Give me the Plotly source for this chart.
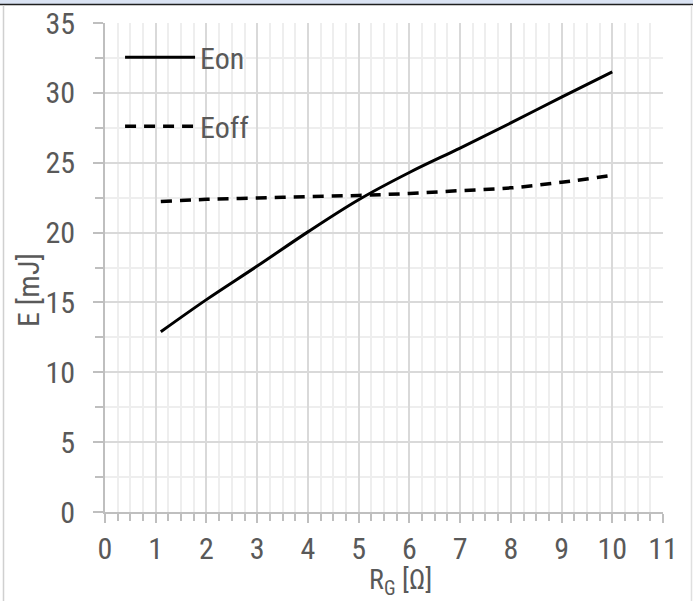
import plotly.graph_objects as go

# Switching energy vs. gate resistance
rg_on = [1.1, 2, 3, 4, 5, 6, 7, 8, 9, 10]
e_on = [12.9, 15.2, 17.6, 20.05, 22.35, 24.3, 26.05, 27.85, 29.7, 31.5]
rg_off = [1.1, 2, 3, 4, 5, 6, 7, 8, 9, 10]
e_off = [22.22, 22.38, 22.47, 22.57, 22.66, 22.8, 23.0, 23.2, 23.6, 24.1]

x_ticks = list(range(0, 12))
y_ticks = list(range(0, 40, 5))

W, H = 693, 601
ML, MR, MT, MB = 105, 30, 23, 89
FONT = "Liberation Sans Narrow, Arial Narrow, Roboto Condensed, sans-serif"
TXT = "#595959"
AXIS = "#bfbfbf"
GRID = "#d9d9d9"
MINOR = "#eeeeee"

fig = go.Figure()
fig.add_trace(go.Scatter(x=rg_on, y=e_on, name="Eon", mode="lines",
                         line=dict(color="black", width=3, shape="spline", smoothing=1.0),
                         legendgroup="on"))
fig.add_trace(go.Scatter(x=rg_off, y=e_off, name="Eoff", mode="lines",
                         line=dict(color="black", width=3.5, dash="11px,8px",
                                   shape="spline", smoothing=1.0),
                         legendgroup="off"))

base_x = dict(range=[0, 11], tickvals=x_ticks, showgrid=True, gridcolor=GRID, gridwidth=1.5,
              zeroline=False, showline=True, linecolor=AXIS, linewidth=2,
              ticks="outside", ticklen=9, tickwidth=2, tickcolor=AXIS,
              minor=dict(dtick=0.25, showgrid=True, gridcolor=MINOR, gridwidth=1.5,
                         ticks="outside", ticklen=7, tickwidth=2, tickcolor=AXIS),
              tickfont=dict(family=FONT, size=30, color=TXT),
              automargin=False, fixedrange=True)
base_y = dict(range=[0, 35], tickvals=y_ticks, showgrid=True, gridcolor=GRID, gridwidth=1.5,
              zeroline=False, showline=True, linecolor=AXIS, linewidth=2,
              ticks="outside", ticklen=10, tickwidth=2, tickcolor=AXIS,
              minor=dict(dtick=2.5, showgrid=True, gridcolor=MINOR, gridwidth=1.5,
                         ticks="outside", ticklen=8, tickwidth=2, tickcolor=AXIS),
              tickfont=dict(family=FONT, size=30, color=TXT), ticklabelstandoff=12,
              automargin=False, fixedrange=True)

fig.update_layout(
    width=W, height=H,
    margin=dict(l=ML, r=MR, t=MT, b=MB, autoexpand=False),
    paper_bgcolor="white", plot_bgcolor="white",
    font=dict(family=FONT, color=TXT),
    xaxis=base_x, yaxis=base_y,
    # inner halves of the crossing tick marks
    xaxis2=dict(overlaying="x", anchor="y", side="bottom", range=[0, 11], tickvals=x_ticks,
                showgrid=False, zeroline=False, showline=False, showticklabels=False,
                ticks="inside", ticklen=9, tickwidth=2, tickcolor=AXIS,
                minor=dict(dtick=0.25, ticks="inside", ticklen=7, tickwidth=2, tickcolor=AXIS),
                automargin=False, fixedrange=True),
    yaxis2=dict(overlaying="y", anchor="x", side="left", range=[0, 35], tickvals=y_ticks,
                showgrid=False, zeroline=False, showline=False, showticklabels=False,
                ticks="inside", ticklen=10, tickwidth=2, tickcolor=AXIS,
                minor=dict(dtick=2.5, ticks="inside", ticklen=8, tickwidth=2, tickcolor=AXIS),
                automargin=False, fixedrange=True),
    showlegend=True,
    legend=dict(x=0.027, y=0.983, xanchor="left", yanchor="top",
                bgcolor="rgba(0,0,0,0)", itemwidth=70, tracegroupgap=27,
                font=dict(family=FONT, size=30, color=TXT)),
)

pw, ph = W - ML - MR, H - MT - MB
def px(xp):
    return (xp - ML) / pw
def py(yp):
    return (H - MB - yp) / ph

fig.update_layout(
    annotations=[
        dict(text="E [mJ]", textangle=-90, xref="paper", yref="paper",
             x=px(28), y=py(290), xanchor="center", yanchor="middle", showarrow=False,
             font=dict(family=FONT, size=30, color=TXT)),
        dict(text="R<sub>G</sub> [Ω]", xref="paper", yref="paper",
             x=px(400), y=py(601), xanchor="center", yanchor="bottom", showarrow=False,
             borderpad=0, font=dict(family=FONT, size=28, color=TXT)),
    ],
    shapes=[
        dict(type="rect", xref="paper", yref="paper", x0=px(0), x1=px(W), y0=py(0), y1=py(4),
             fillcolor="#dae3f3", line=dict(width=0), layer="above"),
        dict(type="line", xref="paper", yref="paper", x0=px(0), x1=px(W), y0=py(4.5), y1=py(4.5),
             line=dict(color="#1f1f1f", width=1.5), layer="above"),
        dict(type="line", xref="paper", yref="paper", x0=px(3.5), x1=px(3.5), y0=py(5), y1=py(H),
             line=dict(color="#d0d0d0", width=1.5), layer="above"),
        dict(type="line", xref="paper", yref="paper", x0=px(691.5), x1=px(691.5), y0=py(5), y1=py(H),
             line=dict(color="#e0e0e0", width=1.5), layer="above"),
    ],
)

fig.write_html("out.html")
